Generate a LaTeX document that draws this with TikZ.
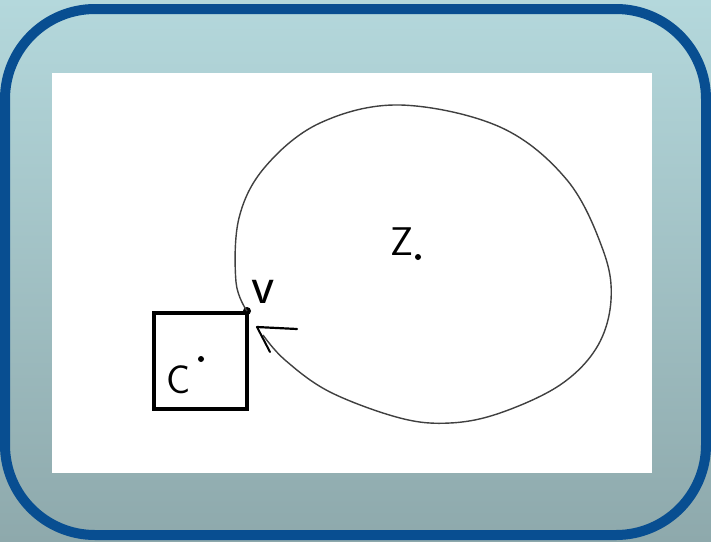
\documentclass[tikz,border=0pt]{standalone}
\usepackage{fontspec}
\usetikzlibrary{arrows.meta}
\definecolor{frameblue}{RGB}{8,78,145}
\definecolor{tealtop}{RGB}{180,216,220}
\definecolor{tealbot}{RGB}{142,169,172}
\tikzset{
    hand/.style={font=\sffamily\fontsize{40}{40}\selectfont, inner sep=0pt},
    pt/.style={fill=black, circle, inner sep=0pt, minimum size=6pt},
    loopline/.style={line width=1.4pt, black!75},
}
\begin{document}
\begin{tikzpicture}[x=1pt, y=-1pt, >=Stealth]
        \useasboundingbox (0,0) rectangle (711,541);
        % Background and frame
        \shade[top color=tealtop, bottom color=tealbot] (0,0) rectangle (711,541);
        \draw[line width=10pt, frameblue, rounded corners=90pt] (5,9) rectangle (706,535);
        \fill[white] (52,73) rectangle (652,473);

        % Square with its centre
        \draw[line width=4pt] (154,313) rectangle (247,409);
        \node[pt] (cdot) at (201,359) {};
        \node[hand] (c) at (179,380) {C};

        % Corner point
        \coordinate (v) at (247,311);
        \fill (v) circle (4pt);
        \node[hand, font=\sffamily\fontsize{54}{54}\selectfont] (vlab) at (263,292) {v};

        % Centre of the loop
        \node[hand] (z) at (402,242) {Z};
        \node[pt] (zdot) at (418,257) {};

        % Loop round z, back to v
        \coordinate (tip) at (257,327);
        \draw[loopline] plot[smooth, tension=0.6] coordinates {
            (v) (236,282) (239,218) (265,167) (320,123) (400,105)
            (500,127) (567,180) (603,250) (611,300) (597,347) (560,385)
            (500,413) (450,423) (400,418) (330,392) (285,360) (263,335)};
        % Hand drawn arrow head
        \draw[line width=2.2pt, line cap=round] (tip) -- (297,329);
        \draw[line width=2pt, line cap=round] (tip) -- (270,352);
\end{tikzpicture}
\end{document}
